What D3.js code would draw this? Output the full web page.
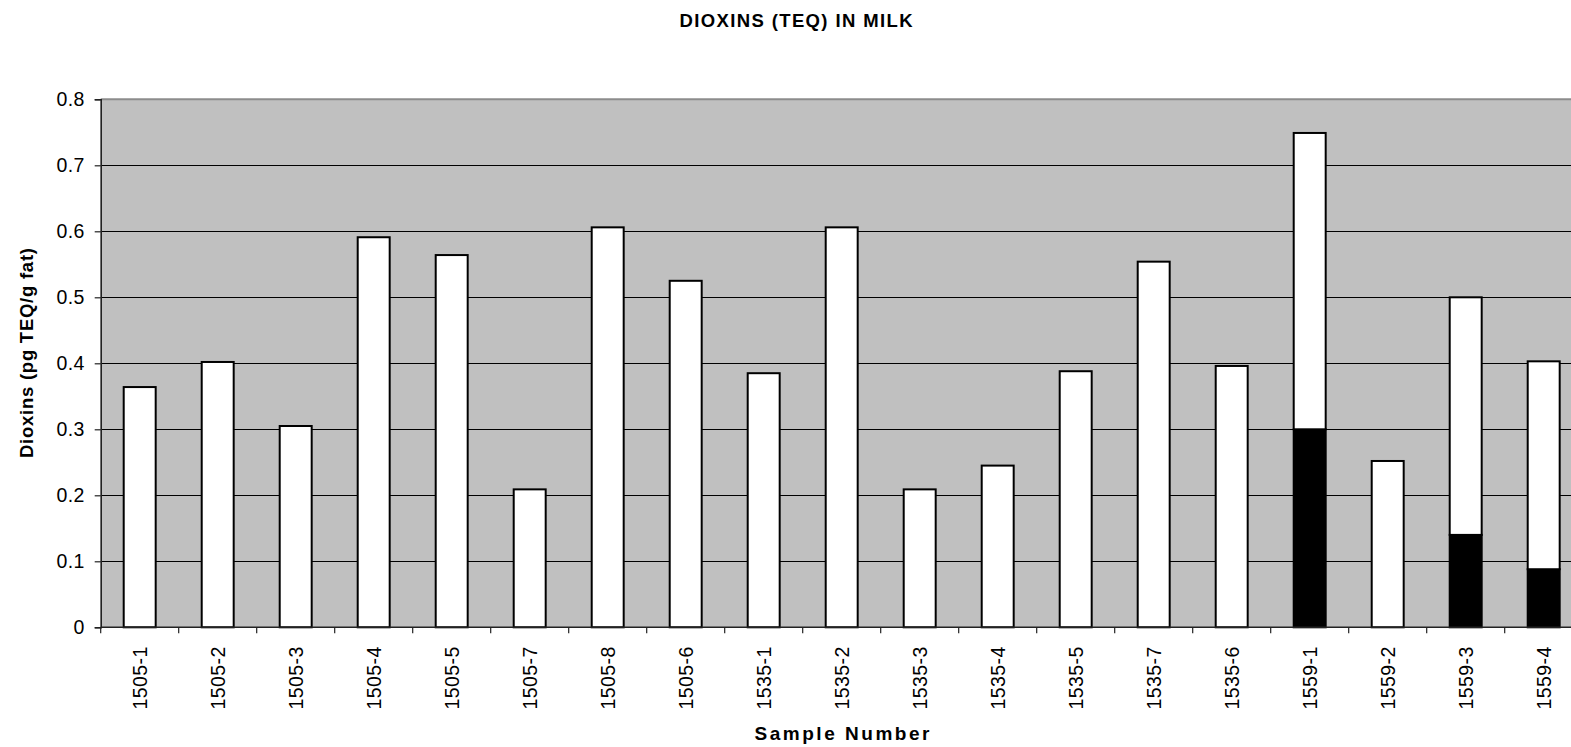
<!DOCTYPE html>
<html>
<head>
<meta charset="utf-8">
<script src="https://cdn.jsdelivr.net/npm/d3@7"></script>
<style>
  html, body { margin: 0; padding: 0; background: #fff; overflow: hidden; }
  svg { display: block; font-family: "Liberation Sans", Arial, sans-serif; }
</style>
</head>
<body>
<svg id="chart" width="1571" height="747"></svg>
<script>
// ---- data ----
const categories = ["1505-1","1505-2","1505-3","1505-4","1505-5","1505-7","1505-8","1505-6",
  "1535-1","1535-2","1535-3","1535-4","1535-5","1535-7","1535-6",
  "1559-1","1559-2","1559-3","1559-4"];
// lower (black) portion of each bar
const lowerValues = [0,0,0,0,0,0,0,0, 0,0,0,0,0,0,0, 0.300,0,0.140,0.088];
// upper (white) portion of each bar
const upperValues = [0.364,0.402,0.305,0.591,0.564,0.209,0.606,0.525,
  0.385,0.606,0.209,0.245,0.388,0.554,0.396,
  0.449,0.252,0.360,0.315];
const yTicks = [0,0.1,0.2,0.3,0.4,0.5,0.6,0.7,0.8];
const titleText = "DIOXINS (TEQ) IN MILK";
const yLabelText = "Dioxins (pg TEQ/g fat)";
const xLabelText = "Sample Number";

// ---- layout ----
const svg = d3.select("#chart");
const plot = {left: 100.7, right: 1582.7, top: 99.3, bottom: 627.3};

const x = d3.scaleBand().domain(categories).range([plot.left, plot.right])
  .paddingInner(0.59).paddingOuter(0.295);
const y = d3.scaleLinear().domain([0, 0.8]).range([plot.bottom, plot.top]);

const rows = categories.map((c, i) => ({cat: c, lower: lowerValues[i], upper: upperValues[i]}));
const stacked = d3.stack().keys(["lower", "upper"])(rows);
const fills = {lower: "#000000", upper: "#ffffff"};

// background
svg.append("rect")
  .attr("x", plot.left).attr("y", plot.top)
  .attr("width", plot.right - plot.left).attr("height", plot.bottom - plot.top)
  .attr("fill", "#c0c0c0");

// gridlines
svg.append("g").selectAll("line").data(yTicks.filter(t => t > 0 && t < 0.8)).join("line")
  .attr("x1", plot.left).attr("x2", plot.right)
  .attr("y1", d => Math.round(y(d)) + 0.5).attr("y2", d => Math.round(y(d)) + 0.5)
  .attr("stroke", "#000").attr("stroke-width", 1.2);

// top border
svg.append("line")
  .attr("x1", plot.left).attr("x2", plot.right)
  .attr("y1", plot.top).attr("y2", plot.top)
  .attr("stroke", "#8c8c8c").attr("stroke-width", 2);

// bars
const barG = svg.append("g");
stacked.forEach(layer => {
  barG.append("g").selectAll("rect")
    .data(layer.filter(d => d[1] - d[0] > 0))
    .join("rect")
    .attr("x", d => x(d.data.cat))
    .attr("width", x.bandwidth())
    .attr("y", d => y(d[1]))
    .attr("height", d => y(d[0]) - y(d[1]))
    .attr("fill", fills[layer.key])
    .attr("stroke", "#000")
    .attr("stroke-width", 2);
});

// y axis
const yAxis = d3.axisLeft(y).tickValues(yTicks).tickSize(6).tickPadding(10)
  .tickFormat(d => d === 0 ? "0" : d3.format(".1f")(d));
const yg = svg.append("g").attr("transform", `translate(${plot.left},0)`).call(yAxis);
yg.select(".domain").attr("stroke", "#222").attr("stroke-width", 1.6);
yg.selectAll(".tick line").attr("stroke", "#222").attr("stroke-width", 1.2);
yg.selectAll(".tick text").attr("font-size", 19.5).attr("fill", "#000")
  .style("letter-spacing", "0.4px");

// x axis: ticks at band boundaries
const xg = svg.append("g").attr("transform", `translate(0,${plot.bottom})`);
xg.append("line").attr("x1", plot.left).attr("x2", plot.right)
  .attr("y1", 0).attr("y2", 0).attr("stroke", "#222").attr("stroke-width", 1.6);
const step = x.step();
const boundaries = d3.range(categories.length + 1).map(i => plot.left + i * step);
xg.selectAll("line.tk").data(boundaries).join("line").attr("class", "tk")
  .attr("x1", d => d).attr("x2", d => d).attr("y1", 0).attr("y2", 6)
  .attr("stroke", "#222").attr("stroke-width", 1.2);
xg.selectAll("text.lbl").data(categories).join("text").attr("class", "lbl")
  .attr("transform", d => `translate(${x(d) + x.bandwidth() / 2},19) rotate(-90)`)
  .attr("text-anchor", "end").attr("dy", "0.35em")
  .attr("font-size", 19.5).style("letter-spacing", "0.4px")
  .text(d => d);

// title
svg.append("text").attr("x", 796).attr("y", 27).attr("text-anchor", "middle")
  .attr("font-size", 18.5).attr("font-weight", "bold")
  .attr("textLength", 233).attr("lengthAdjust", "spacing")
  .text(titleText);

// y label
svg.append("text").attr("transform", "translate(33,353) rotate(-90)")
  .attr("text-anchor", "middle").attr("font-size", 18.5).attr("font-weight", "bold")
  .attr("textLength", 210).attr("lengthAdjust", "spacing")
  .text(yLabelText);

// x label
svg.append("text").attr("x", 842).attr("y", 740).attr("text-anchor", "middle")
  .attr("font-size", 19).attr("font-weight", "bold")
  .attr("textLength", 175).attr("lengthAdjust", "spacing")
  .text(xLabelText);
</script>
</body>
</html>
